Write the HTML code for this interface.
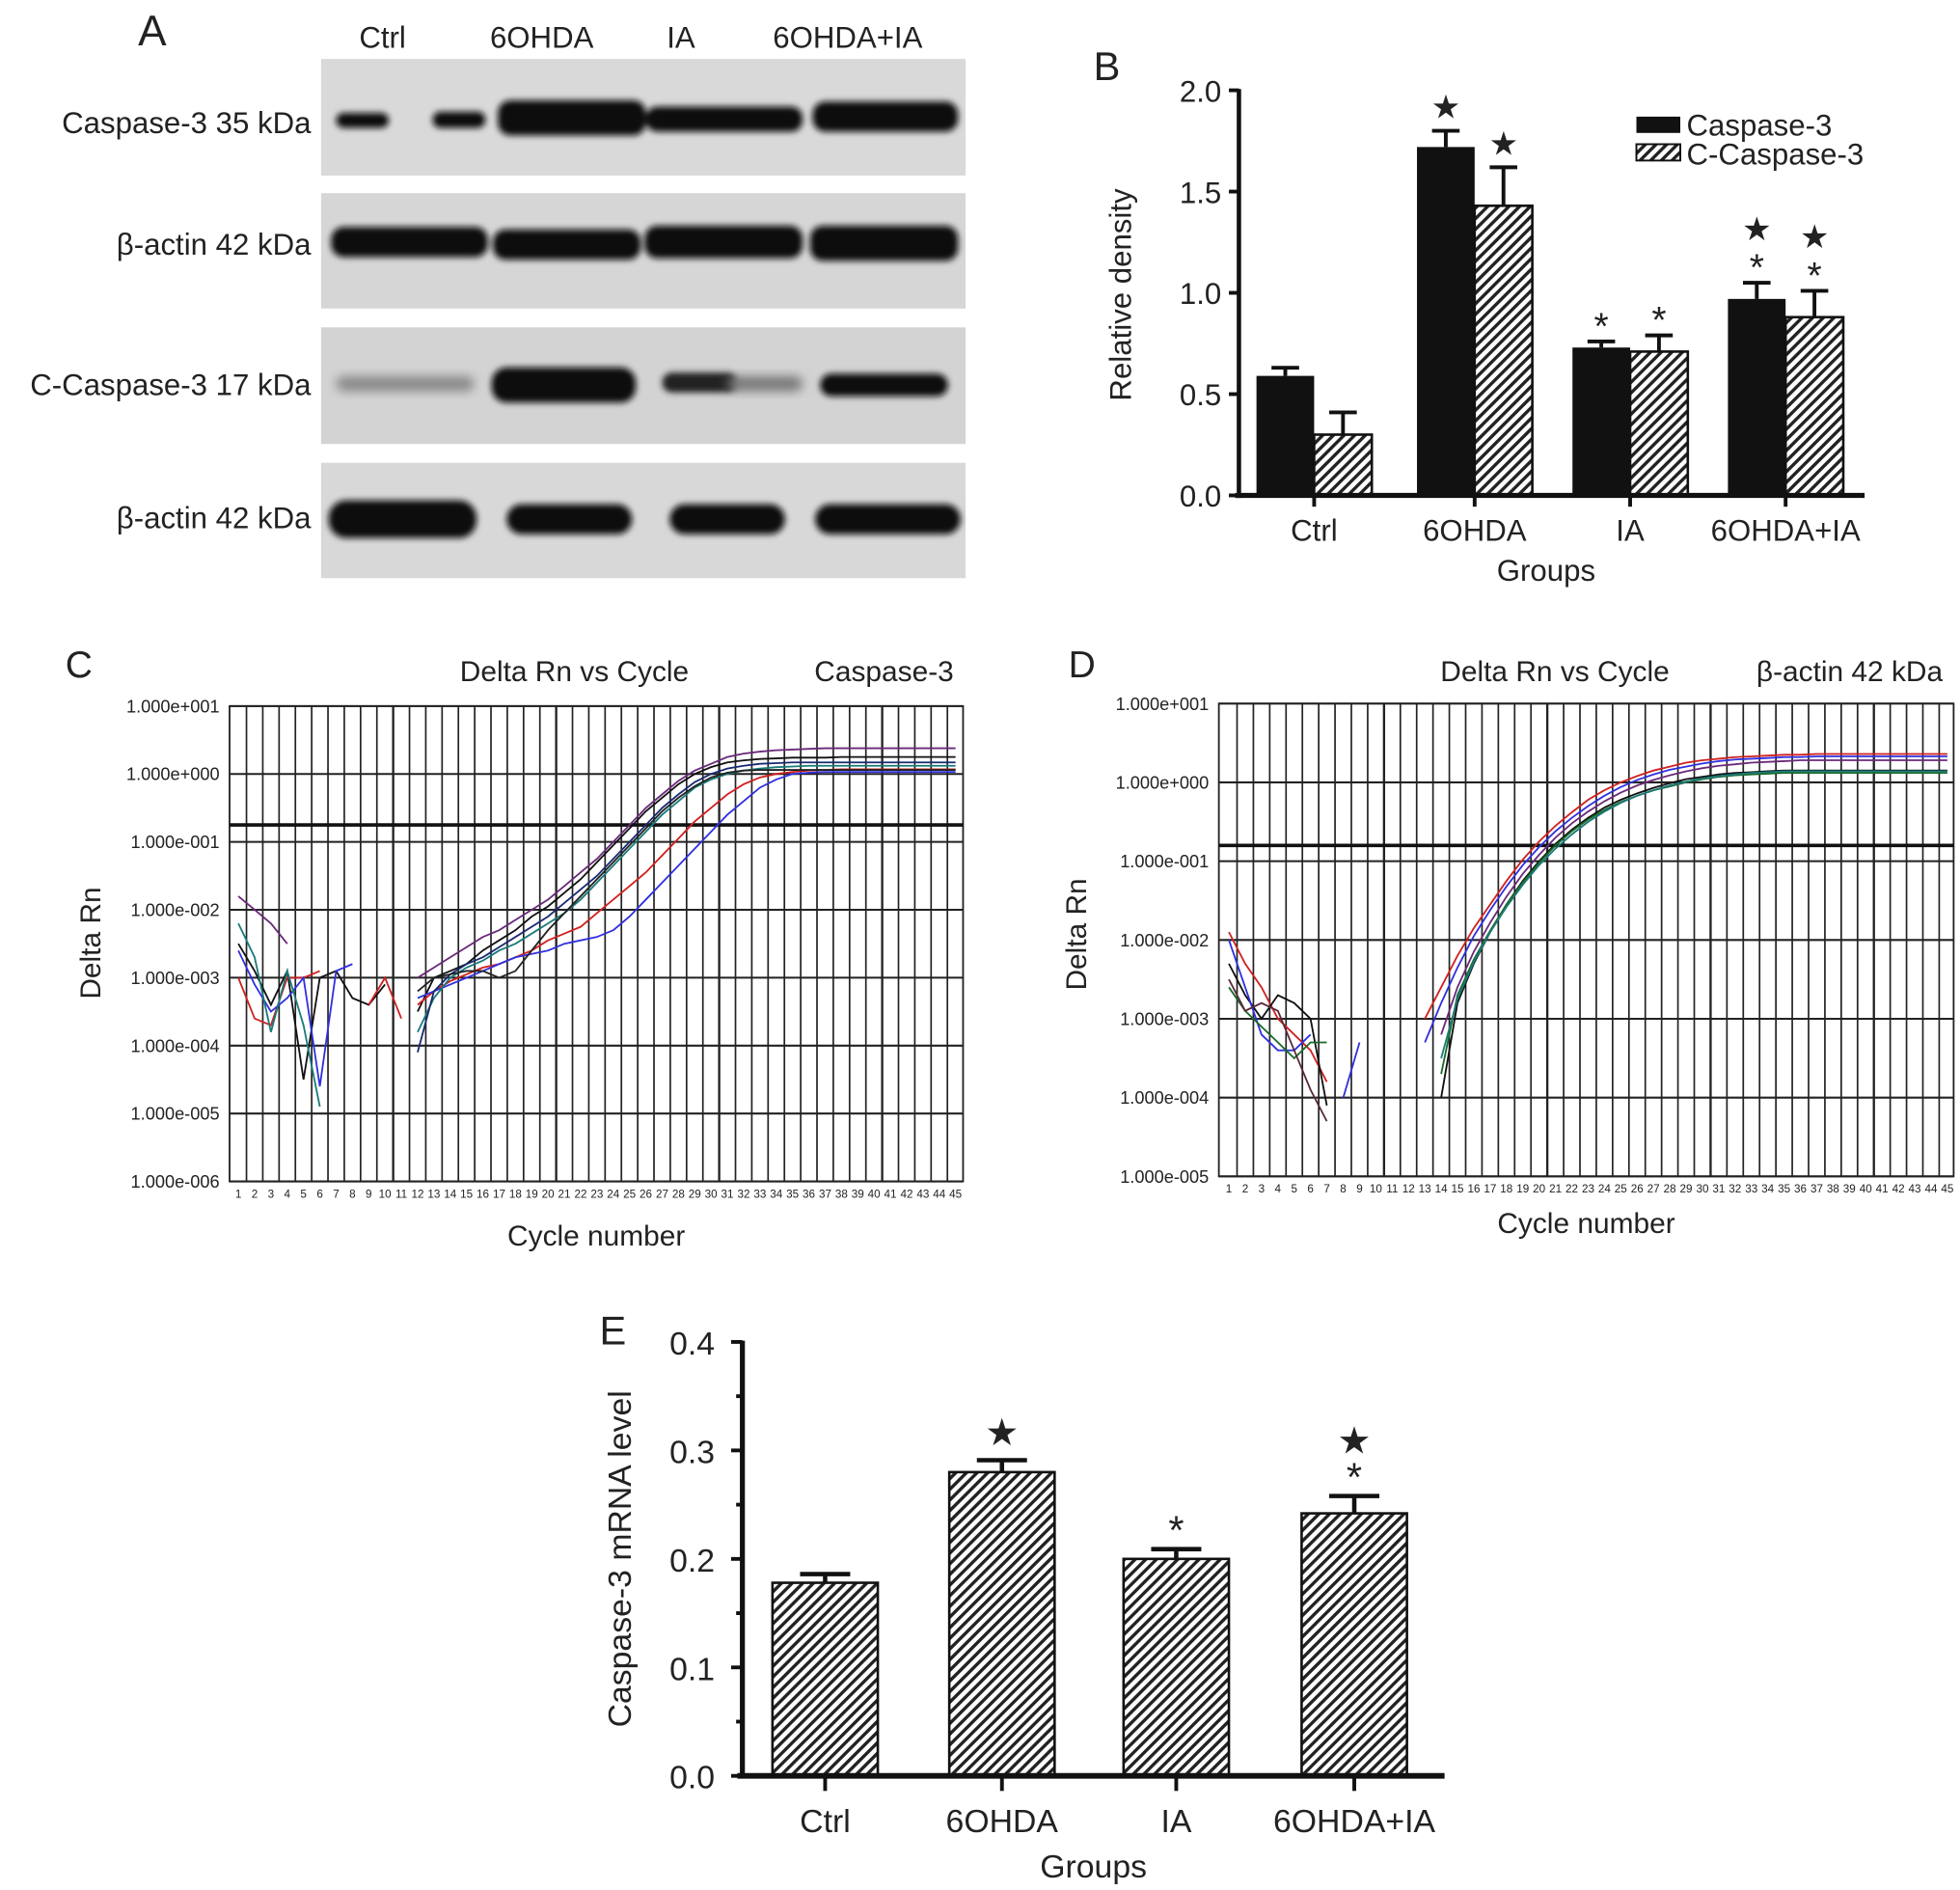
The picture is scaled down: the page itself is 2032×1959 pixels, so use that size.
<!DOCTYPE html>
<html><head><meta charset="utf-8"><style>
html,body{margin:0;padding:0;background:#fff}
svg{display:block}
text{font-family:"Liberation Sans",sans-serif;fill:#222}
</style></head><body>
<svg id="fig" width="2032" height="1959" viewBox="0 0 1563 1507" xmlns="http://www.w3.org/2000/svg">
<defs>
<pattern id="hatch" patternUnits="userSpaceOnUse" width="6" height="6" patternTransform="rotate(45)">
<rect width="6" height="6" fill="#fff"/><rect x="0" y="0" width="2.6" height="6" fill="#222"/>
</pattern>
<filter id="blur" x="-20%" y="-50%" width="140%" height="200%"><feGaussianBlur stdDeviation="4"/></filter>
<filter id="blur2" x="-20%" y="-50%" width="140%" height="200%"><feGaussianBlur stdDeviation="2.5"/></filter>
</defs>

<!-- Panel A -->
<g>
<text x="110" y="36" font-size="34">A</text>
<text x="305" y="38" font-size="24" text-anchor="middle">Ctrl</text>
<text x="432" y="38" font-size="24" text-anchor="middle">6OHDA</text>
<text x="543" y="38" font-size="24" text-anchor="middle">IA</text>
<text x="676" y="38" font-size="24" text-anchor="middle">6OHDA+IA</text>

<rect x="256" y="47" width="514" height="93" fill="#d9d9d9"/>
<rect x="256" y="154" width="514" height="92" fill="#d6d6d6"/>
<rect x="256" y="261" width="514" height="93" fill="#d3d3d3"/>
<rect x="256" y="369" width="514" height="92" fill="#d8d8d8"/>
<g fill="#111" filter="url(#blur2)">
<rect x="268" y="90" width="42" height="12" rx="6"/><rect x="345" y="89" width="42" height="13" rx="6"/>
<rect x="397" y="80" width="118" height="28" rx="10"/><rect x="515" y="85" width="125" height="20" rx="9"/>
<rect x="648" y="81" width="116" height="24" rx="10"/>
<rect x="264" y="181" width="125" height="24" rx="10"/><rect x="393" y="183" width="118" height="24" rx="10"/>
<rect x="514" y="180" width="126" height="26" rx="10"/><rect x="646" y="180" width="118" height="28" rx="10"/>
<rect x="392" y="293" width="115" height="28" rx="12"/><rect x="528" y="297" width="60" height="16" rx="8" fill="#222"/>
<rect x="654" y="298" width="102" height="18" rx="9"/>
<rect x="262" y="399" width="118" height="30" rx="14"/><rect x="404" y="402" width="100" height="24" rx="12"/>
<rect x="534" y="402" width="92" height="24" rx="12"/><rect x="650" y="402" width="116" height="24" rx="12"/>
</g>
<rect x="268" y="300" width="110" height="12" rx="6" fill="#888" filter="url(#blur)"/>
<rect x="580" y="300" width="60" height="12" rx="6" fill="#777" filter="url(#blur)"/>
<g font-size="24" text-anchor="end">
<text x="248" y="106">Caspase-3 35 kDa</text>
<text x="248" y="203">β-actin 42 kDa</text>
<text x="248" y="315">C-Caspase-3 17 kDa</text>
<text x="248" y="421">β-actin 42 kDa</text>
</g>
</g>

<g id="panelB"></g>
<g id="panelC"></g>
<g id="panelD"></g>
<g id="panelE"></g>
</svg>
<script>
// ---------- Panel B data ----------
const bGroups = ["Ctrl","6OHDA","IA","6OHDA+IA"];
const bCasp = [0.59,1.72,0.73,0.97];
const bCaspErr = [0.04,0.08,0.03,0.08];
const bCCasp = [0.30,1.43,0.71,0.88];
const bCCaspErr = [0.11,0.19,0.08,0.13];
const bTicks = ["0.0","0.5","1.0","1.5","2.0"];
const bCaspMarks = ["","star","ast","star-ast"];
const bCCaspMarks = ["","star","ast","star-ast"];
// ---------- Panel E data ----------
const eGroups = ["Ctrl","6OHDA","IA","6OHDA+IA"];
const eVals = [0.178,0.280,0.200,0.242];
const eErr = [0.008,0.011,0.009,0.016];
const eTicks = ["0.0","0.1","0.2","0.3","0.4"];
const eMarks = ["","star","ast","star-ast"];
// ---------- Panel C data (log10 Delta Rn) ----------
const cYTicks = ["1.000e+001","1.000e+000","1.000e-001","1.000e-002","1.000e-003","1.000e-004","1.000e-005","1.000e-006"];
const cStart = 12;
const cCurve1 = [-3.5,-3.0,-2.9,-2.8,-2.6,-2.45,-2.3,-2.1,-1.95,-1.75,-1.55,-1.3,-1.05,-0.8,-0.55,-0.35,-0.15,0.0,0.1,0.17,0.2,0.22,0.23,0.24,0.24,0.24,0.25,0.25,0.25,0.25,0.25,0.25,0.25,0.25];
const cCurve2 = [-3.0,-2.85,-2.7,-2.55,-2.4,-2.3,-2.15,-2.0,-1.85,-1.65,-1.45,-1.25,-1.0,-0.75,-0.5,-0.3,-0.1,0.05,0.15,0.25,0.3,0.33,0.35,0.36,0.37,0.38,0.38,0.38,0.38,0.38,0.38,0.38,0.38,0.38];
const cCurve3 = [-3.4,-3.2,-3.05,-2.95,-2.85,-2.8,-2.7,-2.6,-2.45,-2.35,-2.25,-2.05,-1.85,-1.65,-1.45,-1.2,-0.95,-0.7,-0.5,-0.3,-0.15,-0.05,0.0,0.03,0.05,0.06,0.07,0.07,0.07,0.07,0.07,0.07,0.07,0.07];
const cCurve4 = [-3.3,-3.2,-3.1,-3.0,-2.9,-2.8,-2.7,-2.65,-2.6,-2.5,-2.45,-2.4,-2.3,-2.1,-1.85,-1.6,-1.35,-1.1,-0.85,-0.6,-0.4,-0.2,-0.08,0.0,0.02,0.03,0.03,0.03,0.03,0.03,0.03,0.03,0.03,0.03];
const cCurve5 = [-3.8,-3.3,-3.0,-2.85,-2.75,-2.6,-2.5,-2.35,-2.2,-2.05,-1.85,-1.6,-1.35,-1.1,-0.85,-0.6,-0.4,-0.2,-0.08,0.0,0.05,0.08,0.1,0.11,0.12,0.12,0.12,0.12,0.12,0.12,0.12,0.12,0.12,0.12];
const cCurve6 = [-4.1,-3.2,-2.95,-2.8,-2.7,-2.55,-2.4,-2.25,-2.1,-1.9,-1.7,-1.5,-1.25,-1.0,-0.75,-0.5,-0.3,-0.12,0.0,0.08,0.12,0.15,0.16,0.17,0.17,0.17,0.17,0.17,0.17,0.17,0.17,0.17,0.17,0.17];
const cCurve7 = [-3.2,-3.0,-2.95,-2.9,-2.9,-3.0,-2.9,-2.6,-2.3,-2.05,-1.8,-1.55,-1.3,-1.05,-0.8,-0.55,-0.35,-0.18,-0.05,0.02,0.05,0.06,0.06,0.06,0.06,0.06,0.06,0.06,0.06,0.06,0.06,0.06,0.06,0.06];
const cEarly1 = [-1.8,-2.0,-2.2,-2.5,null,null,null,null,null,null,null];
const cEarly2 = [-2.5,-2.9,-3.4,-2.9,-4.5,-3.0,-2.9,-3.3,-3.4,-3.1,null];
const cEarly3 = [-3.0,-3.6,-3.7,-3.0,-3.0,-2.9,null,null,-3.4,-3.0,-3.6];
const cEarly4 = [-2.6,-3.1,-3.5,-3.3,-3.0,-4.6,-2.9,-2.8,null,null,null];
const cEarly5 = [-2.2,-2.7,-3.8,-2.9,-3.7,-4.9,null,null,null,null,null];
const cThreshold = -0.75;
// ---------- Panel D data ----------
const dYTicks = ["1.000e+001","1.000e+000","1.000e-001","1.000e-002","1.000e-003","1.000e-004","1.000e-005"];
const dStart = 13;
const dCurve1 = [-3.0,-2.6,-2.2,-1.85,-1.55,-1.25,-0.98,-0.75,-0.55,-0.38,-0.22,-0.1,0.0,0.08,0.15,0.2,0.25,0.28,0.3,0.32,0.33,0.34,0.35,0.35,0.36,0.36,0.36,0.36,0.36,0.36,0.36,0.36,0.36];
const dCurve2 = [-3.3,-2.8,-2.35,-1.95,-1.62,-1.32,-1.05,-0.82,-0.62,-0.45,-0.3,-0.17,-0.06,0.03,0.1,0.16,0.2,0.24,0.27,0.29,0.3,0.31,0.32,0.32,0.33,0.33,0.33,0.33,0.33,0.33,0.33,0.33,0.33];
const dCurve3 = [null,-4.0,-2.8,-2.3,-1.9,-1.55,-1.25,-1.0,-0.78,-0.6,-0.45,-0.32,-0.22,-0.14,-0.07,-0.01,0.04,0.07,0.1,0.12,0.13,0.14,0.15,0.15,0.15,0.15,0.15,0.15,0.15,0.15,0.15,0.15,0.15];
const dCurve4 = [null,-3.7,-2.7,-2.25,-1.88,-1.55,-1.27,-1.02,-0.8,-0.62,-0.47,-0.35,-0.25,-0.17,-0.1,-0.05,0.0,0.04,0.07,0.09,0.1,0.11,0.12,0.12,0.12,0.12,0.12,0.12,0.12,0.12,0.12,0.12,0.12];
const dCurve5 = [null,-3.2,-2.6,-2.15,-1.78,-1.45,-1.16,-0.92,-0.7,-0.52,-0.37,-0.24,-0.13,-0.04,0.03,0.09,0.14,0.18,0.21,0.23,0.25,0.26,0.27,0.28,0.28,0.28,0.28,0.28,0.28,0.28,0.28,0.28,0.28];
const dCurve6 = [null,-3.5,-2.75,-2.28,-1.9,-1.58,-1.3,-1.05,-0.84,-0.66,-0.5,-0.37,-0.26,-0.17,-0.1,-0.04,0.01,0.05,0.08,0.1,0.12,0.13,0.14,0.14,0.14,0.14,0.14,0.14,0.14,0.14,0.14,0.14,0.14];
const dEarly1 = [-1.9,-2.3,-2.6,-3.0,-3.2,-3.4,-3.8,null,null];
const dEarly2 = [-2.3,-2.7,-3.0,-2.7,-2.8,-3.0,-4.1,null,null];
const dEarly3 = [-2.0,-2.6,-3.2,-3.4,-3.4,-3.2,null,-4.0,-3.3];
const dEarly4 = [-2.6,-2.9,-3.1,-3.3,-3.5,-3.3,-3.3,null,null];
const dEarly5 = [-2.5,-2.9,-2.8,-2.9,-3.4,-3.9,-4.3,null,null];
const dThreshold = -0.8;

const NS="http://www.w3.org/2000/svg";
function mk(parent,tag,attrs,txt){const e=document.createElementNS(NS,tag);for(const k in attrs)e.setAttribute(k,attrs[k]);if(txt!==undefined)e.textContent=txt;parent.appendChild(e);return e;}

function drawMarks(g,cx,topY,kind){
  if(!kind)return;
  let y=topY-10;
  if(kind.indexOf("ast")>=0){const a=mk(g,"text",{x:cx,y:y+8,"font-size":30,"text-anchor":"middle",fill:"#555"},"*");
    
    
    y-=24;}
  if(kind.indexOf("star")>=0){const s=mk(g,"text",{x:cx,y:y,"font-size":26,"text-anchor":"middle",fill:"#111"},"★");
    
    }
}

// ---------- Panel B ----------
(function(){
  const g=document.getElementById("panelB");
  const x0=988,y0=395,pxPer=161.5;
  const Y=v=>y0-v*pxPer;
  const centers=[1048,1176,1300,1424], bw=46;
  mk(g,"text",{x:872,y:64,"font-size":32},"B");
  bTicks.forEach((t,i)=>{const v=parseFloat(t);
    const tk=mk(g,"line",{x1:x0-8,x2:x0,y1:Y(v),y2:Y(v),stroke:"#111","stroke-width":3});
    
    
    const tl=mk(g,"text",{x:x0-14,y:Y(v)+9,"font-size":24,"text-anchor":"end"},t);
    
    
  });
  bGroups.forEach((name,i)=>{
    const c=centers[i];
    const r1=mk(g,"rect",{x:c-bw,y:Y(bCasp[i]),width:bw,height:y0-Y(bCasp[i]),fill:"#111"});
    
    
    const r2=mk(g,"rect",{x:c,y:Y(bCCasp[i]),width:bw,height:y0-Y(bCCasp[i]),fill:"url(#hatch)",stroke:"#111","stroke-width":2});
    
    
    [[c-bw/2,bCasp[i],bCaspErr[i],bCaspMarks[i]],[c+bw/2,bCCasp[i],bCCaspErr[i],bCCaspMarks[i]]].forEach(([cx,v,e,m])=>{
      const eb=mk(g,"path",{d:`M${cx},${Y(v)}V${Y(v+e)}M${cx-11},${Y(v+e)}H${cx+11}`,stroke:"#111","stroke-width":3,fill:"none"});
      
      
      drawMarks(g,cx,Y(v+e),m);
    });
    mk(g,"line",{x1:c,x2:c,y1:y0,y2:y0+9,stroke:"#111","stroke-width":3});
    const lb=mk(g,"text",{x:c,y:431,"font-size":24,"text-anchor":"middle"},name);
    
    
  });
  mk(g,"line",{x1:x0,x2:x0,y1:Y(2.0)-1,y2:y0+2,stroke:"#111","stroke-width":3.5});
  mk(g,"line",{x1:x0-3,x2:1487,y1:y0,y2:y0,stroke:"#111","stroke-width":4});
  mk(g,"text",{x:1233,y:463,"font-size":24,"text-anchor":"middle"},"Groups");
  mk(g,"text",{x:0,y:0,"font-size":24,"text-anchor":"middle",transform:"translate(902,235) rotate(-90)"},"Relative density");
  mk(g,"rect",{x:1305,y:93,width:35,height:13,fill:"#111"});
  mk(g,"text",{x:1345,y:108,"font-size":24},"Caspase-3");
  mk(g,"rect",{x:1305,y:115,width:35,height:13,fill:"url(#hatch)",stroke:"#111","stroke-width":1.5});
  mk(g,"text",{x:1345,y:131,"font-size":24},"C-Caspase-3");
})();

// ---------- Panel E ----------
(function(){
  const g=document.getElementById("panelE");
  const x0=592,y0=1416,pxPer=865;
  const Y=v=>y0-v*pxPer;
  const centers=[658,799,938,1080],bw=84;
  mk(g,"text",{x:478,y:1072,"font-size":32},"E");
  for(let k=0;k<=8;k++){const v=k*0.05;mk(g,"line",{x1:x0-(k%2?5:9),x2:x0,y1:Y(v),y2:Y(v),stroke:"#111","stroke-width":3});}
  eTicks.forEach(t=>{const v=parseFloat(t);
    const tl=mk(g,"text",{x:x0-22,y:Y(v)+10,"font-size":26,"text-anchor":"end"},t);
    
    
  });
  eGroups.forEach((name,i)=>{
    const c=centers[i],v=eVals[i],e=eErr[i];
    const r=mk(g,"rect",{x:c-bw/2,y:Y(v),width:bw,height:y0-Y(v),fill:"url(#hatch)",stroke:"#111","stroke-width":2});
    
    
    const eb=mk(g,"path",{d:`M${c},${Y(v)}V${Y(v+e)}M${c-20},${Y(v+e)}H${c+20}`,stroke:"#111","stroke-width":3.5,fill:"none"});
    
    
    const mark=eMarks[i];
    if(mark){let y=Y(v+e)-12;
      if(mark.indexOf("ast")>=0){mk(g,"text",{x:c,y:y+8,"font-size":32,"text-anchor":"middle",fill:"#555"},"*");y-=22;}
      if(mark.indexOf("star")>=0){mk(g,"text",{x:c,y:y,"font-size":30,"text-anchor":"middle",fill:"#111"},"★");}
    }
    mk(g,"line",{x1:c,x2:c,y1:y0,y2:y0+12,stroke:"#111","stroke-width":3});
    const lb=mk(g,"text",{x:c,y:1461,"font-size":26,"text-anchor":"middle"},name);
    
    
  });
  mk(g,"line",{x1:x0,x2:x0,y1:Y(0.4)-1,y2:y0+2,stroke:"#111","stroke-width":4});
  mk(g,"line",{x1:x0-4,x2:1152,y1:y0,y2:y0,stroke:"#111","stroke-width":4.5});
  mk(g,"text",{x:872,y:1497,"font-size":26,"text-anchor":"middle"},"Groups");
  mk(g,"text",{x:0,y:0,"font-size":26,"text-anchor":"middle",transform:"translate(503,1243) rotate(-90)"},"Caspase-3 mRNA level");
})();

// ---------- Amplification plots ----------
function amp(gid,o){
  const g=document.getElementById(gid);
  const {L,R,T,B,c1x,c45x,decades,label,lx,title,titleX,gene,geneX,ylabX,ylabY,cycY}=o;
  const X=c=>c1x+(c-1)*(c45x-c1x)/44;
  const per=(B-T)/decades;
  const Y=l=>T+(1-l)*per;
  mk(g,"rect",{x:L,y:T,width:R-L,height:B-T,fill:"#fff",stroke:"#222","stroke-width":1.4});
  for(let c=1;c<=45;c++){const x=X(c)+(c45x-c1x)/88;
    if(c<45)mk(g,"line",{x1:x,x2:x,y1:T,y2:B,stroke:"#222","stroke-width":(c%10===0?1.8:1.3)});
    const tl=mk(g,"text",{x:X(c),y:B+13,"font-size":9,"text-anchor":"middle"},String(c));
    
    
  }
  o.ticks.forEach((t,i)=>{const y=T+i*per;
    mk(g,"line",{x1:L,x2:R,y1:y,y2:y,stroke:"#222","stroke-width":1.6});
    const tl=mk(g,"text",{x:L-8,y:y+5,"font-size":14,"text-anchor":"end"},t);
    
    
  });
  const th=mk(g,"line",{x1:L,x2:R,y1:Y(o.threshold),y2:Y(o.threshold),stroke:"#111","stroke-width":2.8});
  
  
  function line(arr,start,color,name){
    let d="",pen=false;
    arr.forEach((v,i)=>{if(v===null){pen=false;return;}d+=(pen?"L":"M")+X(start+i).toFixed(1)+","+Y(v).toFixed(1);pen=true;});
    const p=mk(g,"path",{d:d,stroke:color,"stroke-width":1.4,fill:"none"});
    
    
  }
  o.curves.forEach(([arr,col],i)=>line(arr,o.start,col,'amplification-curve-'+i));
  o.early.forEach(([arr,col],i)=>line(arr,1,col,'baseline-noise-'+i));
  mk(g,"text",{x:lx,y:540,"font-size":30},label);
  mk(g,"text",{x:titleX,y:543,"font-size":23,"text-anchor":"middle"},title);
  mk(g,"text",{x:geneX,y:543,"font-size":23,"text-anchor":"middle"},gene);
  mk(g,"text",{x:0,y:0,"font-size":23,"text-anchor":"middle",transform:`translate(${ylabX},${ylabY}) rotate(-90)`},"Delta Rn");
  mk(g,"text",{x:(L+R)/2,y:cycY,"font-size":23,"text-anchor":"middle"},"Cycle number");
}
amp("panelC",{L:183,R:768,T:563,B:942,c1x:190,c45x:762,decades:7,ticks:cYTicks,threshold:cThreshold,start:cStart,
  curves:[[cCurve1,"#111"],[cCurve2,"#6a2a7a"],[cCurve3,"#d02020"],[cCurve4,"#3030e0"],[cCurve5,"#1a7a7a"],[cCurve6,"#1a2a70"],[cCurve7,"#222"]],
  early:[[cEarly1,"#6a2a7a"],[cEarly2,"#111"],[cEarly3,"#d02020"],[cEarly4,"#3030e0"],[cEarly5,"#1a7a7a"]],
  label:"C",lx:52,title:"Delta Rn vs Cycle",titleX:458,gene:"Caspase-3",geneX:705,ylabX:80,ylabY:752,cycY:993});
amp("panelD",{L:972,R:1558,T:561,B:938,c1x:980,c45x:1553,decades:6,ticks:dYTicks,threshold:dThreshold,start:dStart,
  curves:[[dCurve1,"#d02020"],[dCurve2,"#3030e0"],[dCurve3,"#111"],[dCurve4,"#1a6a2a"],[dCurve5,"#6a2a7a"],[dCurve6,"#1a7a7a"]],
  early:[[dEarly1,"#d02020"],[dEarly2,"#111"],[dEarly3,"#3030e0"],[dEarly4,"#1a6a2a"],[dEarly5,"#5a2a3a"]],
  label:"D",lx:852,title:"Delta Rn vs Cycle",titleX:1240,gene:"β-actin 42 kDa",geneX:1475,ylabX:866,ylabY:745,cycY:983});
</script>
</body></html>
